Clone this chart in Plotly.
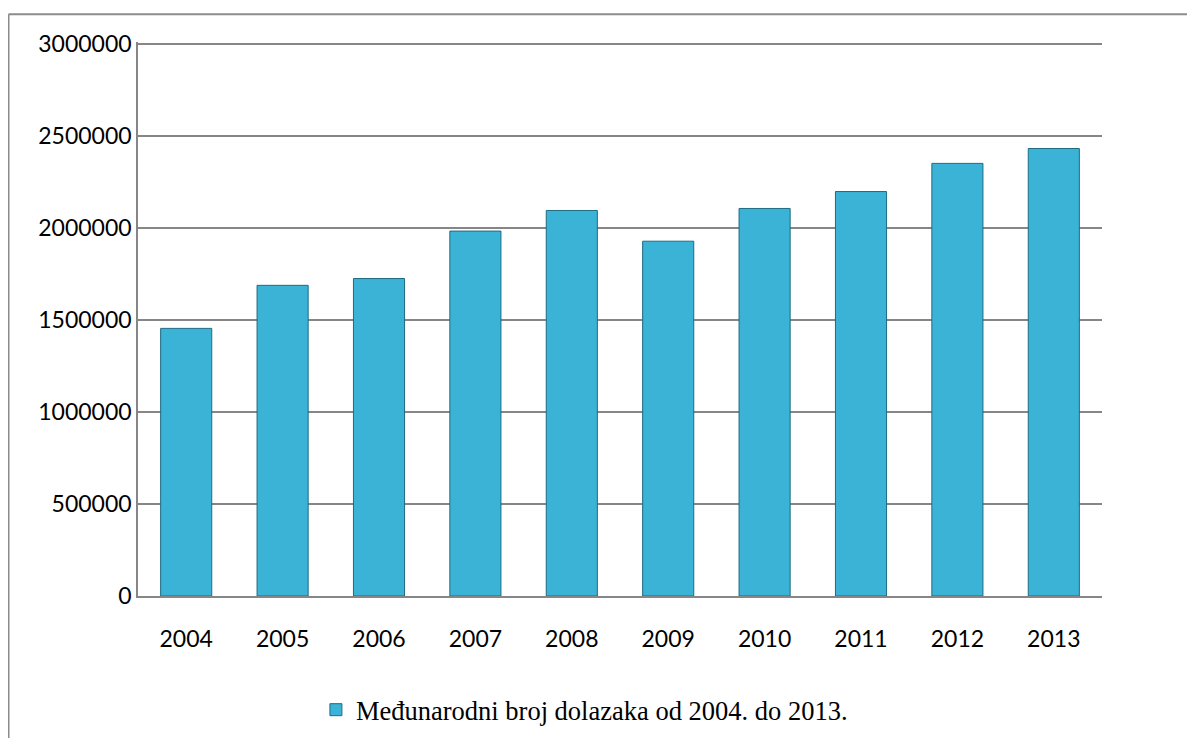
import plotly.graph_objects as go

years = ["2004", "2005", "2006", "2007", "2008", "2009", "2010", "2011", "2012", "2013"]
arrivals = [1455000, 1689000, 1726000, 1984000, 2096000, 1929000, 2107000, 2199000, 2352000, 2433000]
series_name = "Međunarodni broj dolazaka od 2004. do 2013."
y_ticks = [0, 500000, 1000000, 1500000, 2000000, 2500000, 3000000]
y_max = 3012000

W, H = 1195, 738
OFF = 8  # page body margin offset
plot_right, plot_bottom = 1101.7 - OFF, 596 - OFF
scale = (596 - 44) / 3000000.0
L = 137.5 - OFF
T = plot_bottom - y_max * scale
R, B = W - plot_right, H - plot_bottom
pw, ph = W - L - R, H - T - B

def px_x(px):
    return (px - OFF - L) / pw

def px_y(py):
    return (H - B - (py - OFF)) / ph

fig = go.Figure()
fig.add_trace(go.Bar(
    x=years, y=arrivals, name=series_name,
    marker=dict(color="#3AB3D6", line=dict(color="#1E6B82", width=1)),
    showlegend=True,
))

fig.update_layout(
    width=W, height=H,
    margin=dict(l=L, r=R, t=T, b=B, autoexpand=False),
    paper_bgcolor="white", plot_bgcolor="white",
    bargap=0.47,
    font=dict(family="Lato, Open Sans, sans-serif", size=23, color="#000000"),
    xaxis=dict(
        type="category", showgrid=False, showline=True, linecolor="#868686", linewidth=1.5,
        ticks="", ticklabelstandoff=22, tickfont=dict(size=23, family="Lato"),
    ),
    yaxis=dict(
        range=[0, y_max], tickvals=y_ticks, ticktext=[str(v) for v in y_ticks],
        showgrid=True, gridcolor="#868686", gridwidth=1.5,
        showline=True, linecolor="#868686", linewidth=1.5, zeroline=False,
        ticks="", ticklabelstandoff=0, tickfont=dict(size=23, family="Lato"),
    ),
    legend=dict(
        orientation="h", x=px_x(584), xanchor="center", y=px_y(710), yanchor="middle",
        font=dict(family="Liberation Serif, Times New Roman, serif", size=26.5, color="#000000"),
        itemwidth=30,
    ),
    shapes=[
        dict(type="line", xref="paper", yref="paper", x0=px_x(8), x1=px_x(W + 20), y0=px_y(14), y1=px_y(14),
             line=dict(color="#8C8C8C", width=2)),
        dict(type="line", xref="paper", yref="paper", x0=px_x(8), x1=px_x(8), y0=px_y(14), y1=px_y(H + 20),
             line=dict(color="#8C8C8C", width=2)),
    ],
)

fig.write_html("out.html")
